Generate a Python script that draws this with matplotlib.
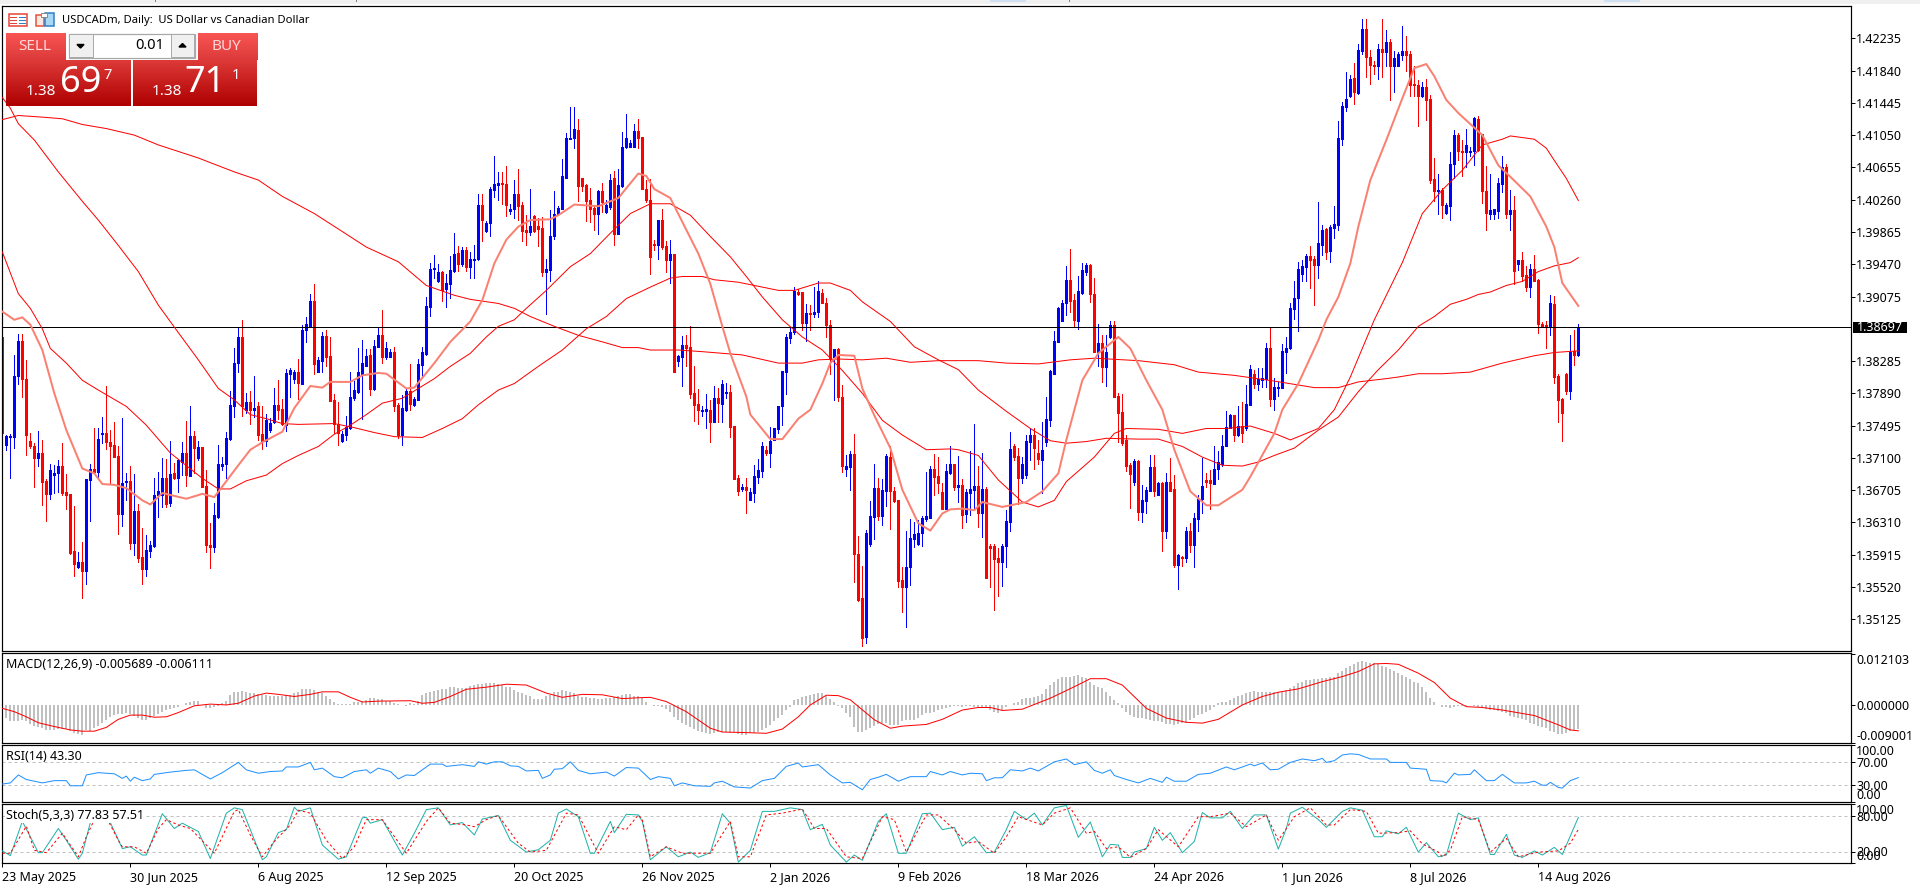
import numpy as np
import matplotlib
matplotlib.use("Agg")
import matplotlib.pyplot as plt
from matplotlib.patches import Rectangle
from matplotlib.colors import LinearSegmentedColormap

plt.rcParams['font.family'] = ['Noto Sans', 'DejaVu Sans']

# ---------- DATA (prices as points above 1.3000, 1 point = 0.0001) ----------
BASE = 1.30
POINT = 0.0001
current_price = 1.38697
price_ticks = [1.35125,1.35520,1.35915,1.36310,1.36705,1.37100,1.37495,1.37890,1.38285,
               1.39075,1.39470,1.39865,1.40260,1.40655,1.41050,1.41445,1.41840,1.42235]
date_labels = ["23 May 2025","30 Jun 2025","6 Aug 2025","12 Sep 2025","20 Oct 2025","26 Nov 2025",
               "2 Jan 2026","9 Feb 2026","18 Mar 2026","24 Apr 2026","1 Jun 2026","8 Jul 2026","14 Aug 2026"]

highs = [858,738,739,836,862,862,830,740,728,743,
 732,684,703,701,707,728,690,666,651,595,
 607,684,703,746,746,760,798,744,754,724,
 759,691,700,690,654,624,616,608,686,693,
 710,709,731,704,709,729,755,773,743,731,
 723,695,630,655,726,711,742,792,845,869,
 879,789,792,810,779,773,764,759,795,805,
 782,819,820,818,831,873,882,911,923,834,
 864,867,858,788,778,743,761,815,804,845,
 854,843,843,854,869,891,852,843,846,777,
 787,796,825,785,831,846,907,948,958,947,
 939,935,957,985,969,968,968,962,970,1033,
 1033,1000,1042,1079,1060,1060,1067,1021,1050,1064,
 1023,1007,1039,1007,1003,1005,954,1013,1036,1018,
 1076,1108,1140,1140,1125,1053,1045,1040,1019,1038,
 1046,1026,1057,1061,1064,1109,1131,1099,1118,1125,
 1103,1050,1051,977,1001,1014,976,977,959,836,
 859,860,871,822,794,773,788,781,798,795,
 805,802,799,749,689,678,685,673,701,709,
 729,724,748,747,774,816,862,870,919,917,
 913,898,897,919,927,917,906,879,843,844,
 799,713,719,739,614,578,622,657,702,685,
 684,715,724,674,658,577,620,635,631,634,
 639,693,700,715,711,679,703,724,703,712,
 684,672,718,752,700,716,674,605,605,600,
 605,646,742,727,722,711,738,747,747,732,
 754,784,818,865,895,903,945,966,911,932,
 948,948,947,930,874,860,860,877,877,789,
 788,738,704,709,707,677,674,713,714,681,
 680,691,710,689,593,590,626,630,642,665,
 710,692,695,724,719,738,768,764,763,773,
 778,799,824,818,820,820,851,870,808,803,
 849,858,899,926,950,952,960,969,957,1023,
 995,991,995,1018,1122,1145,1182,1179,1193,1217,
 1247,1247,1209,1196,1217,1247,1234,1223,1208,1207,
 1239,1226,1208,1189,1172,1170,1174,1154,1077,1057,
 1040,1022,1084,1111,1107,1099,1113,1090,1127,1128,
 1106,1067,1058,1015,1052,1079,1070,1038,1030,952,
 962,945,947,958,929,876,878,909,908,813,
 783,814,860,867,874]

lows = [740,720,686,722,800,784,713,722,674,700,
 652,633,660,667,668,664,648,593,565,575,
 539,556,633,693,687,728,721,678,711,617,
 627,658,599,591,582,556,566,589,601,638,
 650,650,651,684,668,689,676,688,691,707,
 675,595,575,595,636,695,685,732,760,815,
 761,765,752,760,732,721,725,742,753,758,
 750,743,785,802,782,801,852,871,813,815,
 815,822,780,740,726,729,732,745,781,790,
 757,822,787,793,846,826,831,833,767,734,
 726,767,769,773,781,809,836,884,930,925,
 902,895,906,938,939,945,939,930,930,952,
 975,987,982,1029,1026,1021,1006,1008,1003,1001,
 975,970,983,987,969,932,886,926,978,1007,
 1015,1052,1100,1089,1024,1037,1000,999,989,984,
 1011,1010,1015,970,984,1042,1089,1090,1090,1089,
 1039,1023,935,964,953,966,938,924,815,823,
 798,822,783,755,751,761,747,730,754,754,
 754,783,735,684,664,669,642,658,656,679,
 687,713,699,732,740,750,788,850,862,909,
 866,853,866,883,883,899,858,813,781,780,
 693,688,671,558,535,480,484,602,611,634,
 628,651,623,656,552,522,503,554,601,604,
 602,633,636,665,667,647,648,690,671,656,
 624,631,640,646,626,613,563,552,524,541,
 553,576,620,707,654,679,686,708,697,703,
 667,725,749,813,852,877,885,888,870,868,
 910,934,901,840,822,803,798,857,785,730,
 726,694,649,677,634,631,643,669,663,665,
 596,612,670,576,550,578,582,595,577,620,
 642,675,647,678,684,700,724,747,731,737,
 730,744,775,796,793,797,797,773,769,786,
 795,814,843,880,865,926,926,918,897,930,
 958,953,950,979,989,1093,1134,1152,1143,1155,
 1204,1176,1168,1180,1174,1176,1190,1148,1158,1189,
 1197,1183,1153,1153,1116,1152,1124,1047,1024,1009,
 1004,1009,1001,1052,1075,1055,1066,1079,1068,1085,
 1022,989,1002,1002,1003,1035,1004,989,923,940,
 926,914,907,926,863,870,844,860,802,754,
 731,788,782,824,835]

opens = [858,726,735,736,810,853,807,731,725,710,
 716,682,666,689,692,700,668,666,596,577,
 583,572,683,696,693,739,740,730,726,712,
 641,680,682,606,645,589,574,596,602,664,
 665,686,655,692,686,705,716,688,737,710,
 723,676,604,601,638,700,702,733,773,826,
 858,769,778,769,773,739,731,744,754,775,
 770,750,813,806,815,801,866,872,902,815,
 828,859,835,781,751,731,738,746,783,791,
 813,822,836,794,846,860,833,834,840,775,
 738,769,792,775,781,824,837,895,941,926,
 938,917,923,939,961,947,965,944,952,953,
 1019,988,997,1038,1044,1046,1045,1012,1014,1033,
 1019,989,986,1006,994,991,938,940,981,1008,
 1015,1053,1100,1101,1111,1053,1044,1026,1016,1008,
 1037,1011,1017,1052,984,1043,1091,1091,1090,1110,
 1103,1039,1025,972,970,1001,969,952,959,828,
 834,848,846,789,776,767,768,769,754,783,
 776,789,791,749,685,672,674,658,667,687,
 694,720,716,732,745,773,815,857,864,913,
 913,875,887,886,889,912,899,873,833,843,
 784,697,699,715,593,538,491,605,638,673,
 639,670,711,669,658,560,552,576,611,605,
 618,635,637,696,688,668,648,692,702,675,
 677,641,667,671,676,643,672,602,602,587,
 583,602,632,725,712,685,689,729,738,716,
 707,730,756,813,852,878,899,928,903,878,
 912,938,946,911,840,850,821,858,873,786,
 766,732,701,681,706,644,657,670,699,665,
 679,621,681,672,579,589,588,620,603,635,
 660,683,683,678,696,703,724,747,762,738,
 749,747,775,813,801,805,807,845,782,795,
 795,840,844,892,906,935,944,957,953,946,
 971,990,963,991,995,1100,1140,1153,1175,1157,
 1208,1235,1201,1191,1189,1210,1207,1219,1190,1190,
 1203,1208,1204,1167,1166,1153,1164,1149,1051,1037,
 1038,1010,1018,1070,1105,1086,1084,1084,1085,1125,
 1106,1037,1009,1009,1012,1045,1066,1009,1013,947,
 952,934,919,941,928,874,873,870,898,810,
 782,813,792,841,836]

closes = [740,737,737,810,853,806,738,725,710,716,
 681,666,695,692,700,667,665,594,580,583,
 572,684,696,693,733,740,729,725,711,641,
 679,682,606,645,588,574,597,603,665,670,
 686,654,690,685,707,716,689,737,722,723,
 675,603,601,640,702,702,734,775,826,858,
 773,778,769,771,738,731,756,753,775,769,
 751,814,817,815,802,867,874,902,825,830,
 859,833,780,751,741,739,748,784,793,815,
 826,835,794,847,860,833,845,840,774,738,
 771,792,776,782,825,839,896,941,942,937,
 916,924,940,960,947,965,944,953,954,1019,
 1001,998,1039,1045,1046,1045,1019,1015,1033,1018,
 988,986,994,988,990,938,941,981,1009,1016,
 1055,1101,1101,1112,1043,1043,1024,1015,1008,1037,
 1023,1019,1050,984,1044,1091,1101,1095,1110,1102,
 1039,1025,956,970,1001,968,952,959,815,835,
 848,845,788,775,769,769,770,754,783,777,
 801,791,748,684,669,674,671,668,688,695,
 725,716,731,746,773,816,858,864,914,910,
 875,887,886,889,914,899,873,832,843,784,
 700,700,715,592,536,490,618,639,673,639,
 671,712,669,657,559,552,576,612,617,618,
 636,639,696,687,679,648,694,702,675,677,
 640,668,672,676,643,672,563,600,586,583,
 602,633,721,711,685,702,731,738,722,709,
 720,758,816,853,894,900,928,902,879,914,
 940,946,911,840,850,821,840,873,785,765,
 728,700,690,706,644,658,671,699,669,679,
 621,680,670,579,591,588,620,604,636,660,
 676,681,679,697,705,725,748,762,738,749,
 740,776,819,801,806,808,845,782,797,797,
 841,845,894,906,941,945,957,952,946,973,
 989,962,993,996,1101,1141,1149,1174,1158,1209,
 1235,1200,1191,1189,1210,1207,1219,1190,1199,1204,
 1208,1203,1166,1166,1153,1164,1148,1050,1037,1038,
 1019,1019,1070,1105,1085,1084,1093,1086,1126,1087,
 1036,1010,1013,1014,1047,1066,1009,1013,939,952,
 933,919,941,926,874,872,871,899,809,781,
 765,792,840,836,870]

# moving averages: bar index / points above BASE
ma200_bar = [0,4,10,15,20,26,33,39,49,58,64,70,78,85,91,99,106,113,117,124,128,132,138,144,150,155,159,162,169,175,185,194,200,204,209,215,221,227,234,244,251,259,267,273,284,293,299,308,318,328,334,339,346,349,354,360,367,375,383,388,394]
ma200_val = [1124,1129,1127,1125,1118,1113,1105,1093,1077,1060,1050,1030,1009,987,968,950,921,909,904,899,893,883,871,860,852,845,845,842,842,840,836,826,826,830,831,830,832,827,829,829,826,825,830,832,829,824,815,811,804,796,796,803,807,809,813,813,815,826,835,839,841]
ma100_bar = [0,2,4,8,14,17,20,24,29,34,39,43,49,54,58,62,66,70,74,83,88,93,98,105,110,115,119,124,128,134,140,146,151,156,162,167,170,175,178,184,188,194,198,204,207,212,215,222,228,234,239,244,251,257,262,266,271,276,284,289,295,300,305,310,314,318,323,329,334,339,344,349,354,358,362,366,369,372,376,380,384,388,392,394]
ma100_val = [1151,1138,1119,1099,1060,1042,1024,1001,970,938,897,870,830,795,781,763,758,752,751,752,747,741,736,735,746,758,775,793,801,822,842,868,883,905,919,930,932,932,928,925,921,915,915,924,924,915,901,877,846,830,818,793,767,746,731,728,730,734,733,733,724,711,701,700,705,713,722,744,760,791,818,842,871,883,898,904,910,913,921,926,938,945,949,955]
ma50_bar = [0,4,7,10,12,16,20,24,31,36,42,50,54,57,61,66,70,74,79,83,87,91,95,100,104,108,112,117,121,124,128,131,136,142,147,152,157,162,167,172,177,182,186,190,195,200,205,210,215,220,225,231,237,239,244,249,255,259,263,266,273,278,281,289,295,301,306,312,318,322,326,329,333,337,343,347,350,355,360,365,370,375,377,383,386,388,391,394]
ma50_val = [962,911,893,868,844,826,805,793,773,750,716,685,672,672,682,689,703,713,724,739,750,763,777,783,795,807,822,838,858,871,879,893,915,944,960,985,1009,1021,1021,1007,981,956,932,907,879,858,842,817,789,756,738,720,721,720,713,683,656,650,658,681,711,740,746,745,740,746,746,749,740,732,740,746,769,809,879,919,949,1009,1038,1062,1093,1100,1104,1100,1089,1074,1052,1025]
ma20_bar = [0,3,5,7,10,13,16,20,23,25,28,31,35,37,40,46,50,53,55,59,62,65,70,73,77,80,82,87,90,94,96,101,103,108,112,117,120,123,126,129,132,137,139,143,149,154,159,161,163,167,171,174,177,180,182,186,187,192,195,199,202,205,207,209,213,215,218,222,225,229,232,235,237,240,243,245,250,256,260,264,266,270,274,279,282,286,290,293,297,301,304,310,312,318,320,324,329,331,334,337,339,342,346,350,353,356,358,361,364,370,374,377,382,386,388,390,394]
ma20_val = [889,879,882,873,842,789,744,697,691,678,677,673,658,653,667,660,666,662,675,701,720,729,742,771,798,796,803,803,811,814,813,795,796,826,852,877,903,948,977,993,1001,1002,1007,1020,1018,1028,1058,1055,1039,1028,989,960,923,871,838,785,763,733,733,758,769,801,826,836,835,795,762,722,671,630,621,642,647,648,646,656,650,656,669,691,732,805,838,858,844,805,769,720,669,652,652,671,687,740,769,801,854,879,907,948,993,1050,1099,1150,1187,1192,1177,1148,1132,1105,1068,1054,1030,993,968,924,896]

# MACD histogram, one value per bar, in thousandths
macd_hist_a = [-3.1,-3.1,-3.9,-3.9,-3.8,-3.5,-3.9,-4.5,-5.0,-5.3,
 -5.5,-5.9,-5.9,-5.9,-5.7,-5.7,-5.7,-6.1,-6.7,-6.8,
 -7.1,-5.9,-6.1,-5.5,-5.0,-4.3,-3.5,-2.9,-2.4,-2.1,
 -2.1,-2.0,-2.1,-2.6,-3.1,-3.5,-3.5,-3.1,-2.6,-2.1,
 -1.6,-1.3,-0.9,-0.8,-0.4,0,0.4,0.6,0.9,0.9,
 0,-0.8,-0.8,-0.4,-0.2,0.4,1.0,2.4,3.1,3.1,
 3.3,3.1,2.9,2.9,2.6,2.4,2.4,2.1,2.1,2.1,
 2.1,2.4,2.4,2.8,3.1,3.7,3.8,3.7,3.5,3.1,
 2.9,2.0,1.3,0.8,0.2,0.2,0.2,0.2,0.6,0.8,
 0.9,1.2,1.6,1.7,1.5,1.3,1.0,1.0,0.4,0.2,
 0,-0.2,0.4,0.2,1.0,2.4,2.9,3.1,3.3,3.5,
 3.7,3.7,4.2,4.2,4.1,4.1,4.1,4.5,4.7,4.9,
 5.0,5.3,5.3,5.1,5.0,4.7,4.3,4.2,3.5,3.1,
 2.9,2.4,2.0,1.3,1.3,1.3,2.0,2.4,3.0,3.1,
 3.5,3.4,3.1,2.8,2.0,1.8,1.8,1.7,1.6,1.3,
 1.3,1.6,1.6,1.8,2.1,2.4,2.5,2.5,2.1,2.0]
macd_hist_b = [1.6,0.8,0,-0.2,-0.2,-0.6,-0.9,-1.6,-2.8,-3.5,
 -4.2,-4.7,-5.3,-5.7,-6.1,-6.5,-6.7,-6.8,-6.7,-6.5,
 -6.5,-6.5,-6.7,-6.5,-6.9,-7.1,-7.1,-6.7,-6.7,-6.3,
 -5.9,-5.5,-4.7,-3.9,-3.1,-2.4,-1.2,-0.4,1.2,1.3,
 1.8,2.1,2.4,2.6,2.9,2.8,2.0,1.3,0.6,-0.2,
 -0.8,-1.8,-2.9,-5.1,-6.3,-6.3,-5.9,-5.5,-5.0,-4.5,
 -4.3,-4.3,-4.7,-4.7,-4.7,-3.9,-3.5,-3.5,-3.5,-3.1,
 -2.4,-2.0,-2.0,-1.6,-1.2,-1.0,-0.8,-0.4,-0.2,-0.2,
 -0.4,-0.2,-0.2,-0.4,-0.4,-0.4,-0.8,-1.2,-1.6,-1.8,
 -1.2,-0.6,0,0.4,0.6,1.3,1.6,1.6,1.8,2.0,
 2.5,3.7,4.7,5.5,6.1,6.5,6.5,6.7,6.8,7.0,
 6.7,6.3,5.5,4.7,4.3,3.9,3.1,2.0,1.2,0.4,
 -0.8,-1.6,-2.4,-2.9,-3.0,-3.1,-3.4,-3.5,-3.7,-3.9,
 -4.1,-4.5,-4.6,-4.7,-4.6,-4.3,-4.2,-3.5,-3.1,-2.4,
 -2.1,-1.6,-1.2,-0.4,0.4,0.6,0.8,1.2,1.6,2.1,
 2.4,2.8,3.1,3.3,3.1,3.0,3.1,3.1,3.1,3.1]
macd_hist_c = [3.1,3.5,4.1,4.5,5.1,5.5,5.9,5.9,6.1,6.1,
 6.3,6.3,6.5,6.7,7.5,8.1,8.7,9.2,9.7,10.2,
 10.4,10.2,10.0,9.8,9.6,9.2,8.9,8.4,8.1,7.6,
 7.1,6.5,6.1,5.5,5.1,4.3,3.1,1.7,0.8,-0.1,
 -0.4,-0.6,-0.7,-0.6,-0.2,-0.2,-0.2,0,-0.2,-0.4,
 -0.8,-1.0,-1.3,-1.3,-1.4,-1.6,-2.0,-2.6,-2.9,-3.1,
 -3.4,-3.5,-4.3,-4.6,-5.0,-5.1,-5.5,-6.1,-6.5,-6.8,
 -6.8,-6.7,-6.2,-5.9,-5.689]
macd_sig_bar = [0,3,6,9,13,17,20,23,26,29,32,35,38,41,44,48,52,56,59,63,66,69,73,77,80,84,87,90,94,102,105,108,112,116,121,126,131,136,140,145,150,155,159,162,166,171,177,180,185,191,195,199,202,206,209,212,218,222,225,231,235,240,244,247,250,255,262,268,272,276,280,286,291,296,300,304,310,315,319,324,330,335,339,343,346,349,354,358,362,366,370,375,383,389,392,394]
macd_sig_val = [-.8,-1.6,-2.8,-4.2,-5.1,-5.9,-6.2,-6.2,-5.3,-3.4,-2.4,-2.4,-2.9,-2.8,-1.8,-.2,.2,0,.4,2.1,2.8,2.5,2,2.5,3.1,3.1,1.8,.7,.9,1,.4,.6,2,3.7,4.2,4.9,4.7,2.8,1.8,2.5,2.4,1.5,1.7,1.8,.8,-1.6,-5.5,-6.4,-6.5,-6.7,-5.7,-2.8,0,2.3,2.2,1.2,-3.5,-5.5,-5,-4.6,-3.4,-1.2,-.6,-.6,-1.3,-1,1.6,4.3,6.2,6.2,4.7,-.8,-3.1,-4.1,-4.3,-3.4,0,2,3,3.8,5.5,6.7,7.9,9.7,9.8,9.6,7.5,5.3,1.6,-.4,-.6,-1.2,-2.5,-4.7,-5.9,-6.111]

rsi_bar = [0,2,4,6,8,10,13,16,17,20,21,24,28,30,31,32,33,35,37,38,40,42,46,48,52,55,59,61,64,67,70,71,74,77,78,80,83,85,88,91,92,94,97,99,101,103,107,110,111,115,118,119,121,123,125,127,129,131,134,135,137,138,140,142,144,147,151,153,156,159,
 162,164,167,168,170,173,177,178,180,183,187,190,193,196,199,200,204,207,210,212,215,217,219,221,224,227,231,232,235,237,240,242,245,246,248,250,252,255,257,259,263,266,268,271,273,275,277,278,281,284,287,290,291,293,296,299,302,306,308,312,313,315,317,319,
 322,325,328,330,331,333,335,337,339,342,346,347,351,352,356,357,360,361,363,364,367,368,371,373,375,378,381,383,385,386,387,389,390,392,394]
rsi_val = [32,34,48,40,37,34,38,38,29,29,48,52,50,42,46,37,44,38,41,49,51,53,56,57,41,52,70,57,51,54,55,62,62,70,57,60,45,43,54,57,51,60,54,41,48,47,67,67,63,66,63,71,67,71,71,64,63,55,56,42,48,58,59,71,56,50,53,46,61,60,
 40,45,42,29,34,29,28,34,37,27,25,38,42,63,69,62,66,48,34,35,22,40,44,49,37,45,45,54,48,54,48,51,50,38,43,43,57,55,60,55,71,76,66,71,56,51,57,47,40,34,42,35,44,37,37,49,51,62,57,67,64,69,57,58,
 70,76,73,77,70,73,83,85,84,76,76,70,70,60,58,38,37,34,51,48,49,57,38,38,49,34,34,37,30,30,35,26,25,38,43.3]

stoch_main_bar = [0,2,5,7,9,10,14,16,19,20,22,25,27,30,32,35,36,40,43,45,49,52,56,58,60,65,66,69,71,73,74,77,80,84,86,90,91,92,95,100,103,106,109,112,115,118,120,124,127,131,134,137,139,141,144,147,148,152,153,156,159,
 160,162,166,169,172,174,177,180,182,184,187,190,193,197,200,202,205,207,211,213,215,219,221,224,226,230,232,235,238,240,243,246,248,251,253,256,258,260,263,266,269,272,275,277,279,280,282,283,286,288,290,292,295,298,300,302,305,307,310,313,316,319,
 321,322,325,329,331,335,337,340,343,345,346,349,351,354,356,359,361,364,367,369,372,373,376,378,380,383,385,388,390,394]
stoch_main_val = [21,13,71,45,18,18,59,39,7,17,69,85,69,25,28,14,14,84,59,68,54,8,85,94,91,6,11,52,57,95,88,94,31,7,11,77,78,68,74,14,51,91,94,65,69,48,75,81,39,19,23,39,85,92,79,17,17,71,52,83,82,
 71,6,28,11,19,10,18,84,68,2,22,88,88,94,91,57,66,31,2,14,5,71,84,17,17,84,85,57,61,29,45,18,19,57,88,74,85,65,94,98,44,70,11,32,31,10,10,19,25,61,39,52,18,37,86,77,77,88,59,82,82,24,
 59,85,95,74,61,88,94,90,45,45,55,50,61,19,35,11,14,85,74,77,15,15,49,14,10,21,14,27,15,77.83]
stoch_sig_bar = [0,2,6,8,11,15,19,21,23,26,29,30,33,36,39,41,44,47,53,58,59,62,65,68,72,74,77,81,85,88,91,95,101,106,109,112,116,118,121,124,129,132,136,141,144,149,153,156,159,
 160,162,166,170,173,177,182,184,187,191,195,200,203,206,211,215,220,223,226,231,234,238,241,244,248,251,254,260,263,267,271,273,276,279,282,286,289,294,299,302,307,311,316,319,
 323,327,331,333,337,341,344,349,352,355,359,360,362,365,369,372,376,379,384,389,392,394]
stoch_sig_val = [17,17,63,22,18,51,11,45,74,78,39,28,28,17,59,74,65,59,17,88,91,48,11,37,65,90,85,39,8,28,74,74,17,71,94,68,65,62,74,81,34,19,22,85,82,17,62,57,82,
 74,11,28,17,17,17,71,11,11,82,85,92,59,59,11,8,79,74,19,82,82,57,34,37,17,45,79,65,85,94,51,54,25,28,10,25,57,28,79,79,85,62,82,39,
 79,94,65,65,91,88,51,52,55,33,19,11,22,79,74,19,42,11,19,21,34,57.51]

# ---------- LAYOUT helpers ----------
W, H = 1920, 885
fig = plt.figure(figsize=(W/100, H/100), dpi=100, facecolor='white')
def ax_px(l, t, r, b):
    return fig.add_axes([l/W, 1-b/H, (r-l)/W, (b-t)/H], facecolor='white')

L, R = 2.33, 1850.6
XLIM = (0, (R-L)/4)
ax_main  = ax_px(L, 6, R, 651)
ax_macd  = ax_px(L, 653.3, R, 743.3)
ax_rsi   = ax_px(L, 745.3, R, 802.3)
ax_stoch = ax_px(L, 804.3, R, 863.3)
PX = 0.72
FS = 9
for a in (ax_main, ax_macd, ax_rsi, ax_stoch):
    a.set_xlim(*XLIM)
    a.yaxis.tick_right()
    for s in a.spines.values():
        s.set_linewidth(PX*1.2); s.set_color('black')
    a.tick_params(axis='y', length=2.9, width=PX, pad=1.2, labelsize=FS)
    a.tick_params(axis='x', length=0)
    a.set_xticks([])

# ---------- main pane ----------
def price(v):
    return BASE + np.asarray(v, float)*POINT
bars = np.arange(len(closes))
o, h, l, c = map(price, (opens, highs, lows, closes))
up = c >= o
col = np.where(up, '#0000FF', '#FF0000')
ax_main.vlines(bars, l, h, colors=col, linewidth=PX, antialiased=False, zorder=2)
ax_main.vlines(bars, np.minimum(o, c), np.maximum(o, c), colors=col, linewidth=PX*3, antialiased=False, zorder=2)
ax_main.axhline(current_price, color='black', lw=PX, zorder=3)
for bx, vals in ((ma200_bar, ma200_val), (ma100_bar, ma100_val), (ma50_bar, ma50_val)):
    ax_main.plot(bx, price(vals), color='#FF0000', lw=PX, zorder=4)
ax_main.plot(ma20_bar, price(ma20_val), color='#FA8072', lw=PX*2, zorder=5)
ax_main.set_ylim(1.34737, 1.42630)
ax_main.set_yticks(price_ticks)
ax_main.set_yticklabels([f"{p:.5f}" for p in price_ticks])

# ---------- MACD ----------
macd_hist = macd_hist_a + macd_hist_b + macd_hist_c
ax_macd.vlines(np.arange(len(macd_hist)), 0, np.array(macd_hist)*1e-3, colors='#C0C0C0', linewidth=PX*2, antialiased=False, zorder=2)
ax_macd.plot(macd_sig_bar, np.array(macd_sig_val)*1e-3, color='#FF0000', lw=PX, zorder=3)
ax_macd.set_ylim(-0.00906, 0.0122)
ax_macd.set_yticks([-0.009001, 0, 0.012103])
ax_macd.set_yticklabels(["-0.009001", "0.000000", "0.012103"])
tl = ax_macd.get_yticklabels()
tl[0].set_va('bottom'); tl[2].set_va('top')

# ---------- RSI ----------
for lv in (70, 30):
    ax_rsi.axhline(lv, color='#C0C0C0', lw=PX, ls=(0, (3, 3)), zorder=1)
ax_rsi.plot(rsi_bar, rsi_val, color='#1E90FF', lw=PX, zorder=3)
ax_rsi.set_ylim(0, 100)
ax_rsi.set_yticks([0, 30, 70, 100])
ax_rsi.set_yticklabels(["0.00", "30.00", "70.00", "100.00"])
tl = ax_rsi.get_yticklabels()
tl[0].set_va('bottom'); tl[3].set_va('top')

# ---------- Stochastic ----------
for lv in (80, 20):
    ax_stoch.axhline(lv, color='#C0C0C0', lw=PX, ls=(0, (3, 3)), zorder=1)
ax_stoch.plot(stoch_main_bar, stoch_main_val, color='#20B2AA', lw=PX, zorder=3)
ax_stoch.plot(stoch_sig_bar, stoch_sig_val, color='#FF0000', lw=PX, ls=(0, (2.5, 2.5)), zorder=4)
ax_stoch.set_ylim(0, 100)
ax_stoch.set_yticks([0, 20, 80, 100])
ax_stoch.set_yticklabels(["0.00", "20.00", "80.00", "100.00"])
tl = ax_stoch.get_yticklabels()
tl[0].set_va('bottom'); tl[3].set_va('top')
ax_stoch.set_xticks(np.arange(len(date_labels))*32)
ax_stoch.set_xticklabels(date_labels, ha='left', fontsize=FS)
ax_stoch.tick_params(axis='x', length=2.9, width=PX, pad=3)

# ---------- overlay: chart furniture, in pixels ----------
ov = fig.add_axes([0, 0, 1, 1], facecolor='none', zorder=10)
ov.set_axis_off()
def grad(x0, y0, x1, y1, top, bot):
    cm = LinearSegmentedColormap.from_list('g', [top, bot])
    ov.imshow(np.linspace(0, 1, 64)[:, None], cmap=cm, extent=(x0, x1, y1, y0), aspect='auto', zorder=2, interpolation='bilinear')
def rect(x0, y0, x1, y1, fc, ec='none', lw=0, z=3):
    ov.add_patch(Rectangle((x0, y0), x1-x0, y1-y0, facecolor=fc, edgecolor=ec, linewidth=lw, zorder=z))

# top strip
rect(0, 0, W, 4, '#F0F0F0')
for tx in (155, 356, 1069):
    rect(tx, 0, tx+1, 2, '#808080')
rect(990, 0, 1026, 2, '#CFE0F0'); rect(1604, 0, 1640, 2, '#CFE0F0')

# title and icons
ov.text(61.5, 20.5, "USDCADm, Daily:  US Dollar vs Canadian Dollar", fontsize=8.1, va='center', ha='left', color='black', zorder=6)
rect(8.5, 14, 27, 25.5, 'white', ec='#E5433A', lw=1.1)
for yy in (17, 19.8, 22.5):
    rect(10, yy, 17, yy+1.3, '#E5433A'); rect(18.5, yy, 26, yy+1.3, '#2F80C8')
rect(17.5, 14, 18.2, 25.5, '#2F80C8')
rect(36, 14.5, 44, 25.5, '#F8E8E0', ec='#E5533A', lw=1.1)
rect(45, 13, 53.5, 25.5, '#A9D8F5', ec='#2F80C8', lw=1.1)
rect(41, 13, 47, 16.5, 'white', ec='#888888', lw=0.7)

# trade panel
grad(6, 33.3, 65.7, 60, '#FA5555', '#DC3A3A')
grad(197.5, 33.3, 256.7, 60, '#FA5555', '#DC3A3A')
grad(6, 60, 131, 106, '#DD3A38', '#AE0000')
grad(133, 60, 257, 106, '#DD3A38', '#AE0000')
rect(10, 59.6, 62, 60.3, '#AA2020'); rect(201, 59.6, 253, 60.3, '#AA2020')
rect(68.5, 33.5, 194.5, 57.5, 'white', ec='#A8A8A8', lw=0.9)
rect(69, 34, 92.5, 57, '#F0F0F0', ec='#A8A8A8', lw=0.7)
rect(170.5, 34, 194, 57, '#F0F0F0', ec='#A8A8A8', lw=0.7)
ov.fill([77, 84, 80.5], [44.5, 44.5, 48], color='black', zorder=5)
ov.fill([179, 186, 182.5], [47, 47, 43.5], color='black', zorder=5)
ov.text(35, 46.5, "SELL", color='#FFD8D8', fontsize=11, ha='center', va='center', zorder=6)
ov.text(226.5, 46.5, "BUY", color='#FFD8D8', fontsize=11, ha='center', va='center', zorder=6)
ov.text(164, 45.5, "0.01", color='black', fontsize=10.5, ha='right', va='center', zorder=6)
ov.text(26, 91.5, "1.38", color='white', fontsize=11, fontweight='bold', ha='left', va='center', zorder=6)
ov.text(152, 91.5, "1.38", color='white', fontsize=11, fontweight='bold', ha='left', va='center', zorder=6)
ov.text(80.5, 83, "69", color='white', fontsize=26, ha='center', va='center', zorder=6)
ov.text(205, 83, "71", color='white', fontsize=26, ha='center', va='center', zorder=6)
ov.text(108, 75.5, "7", color='white', fontsize=10.5, fontweight='bold', ha='center', va='center', zorder=6)
ov.text(235.5, 75.5, "1", color='white', fontsize=10.5, fontweight='bold', ha='center', va='center', zorder=6)

# last-price box
rect(1853, 321.7, 1906.7, 333.3, 'black')
ov.text(1856.5, 327.5, f"{current_price:.5f}", color='white', fontsize=FS, ha='left', va='center', zorder=6)

# indicator labels (the stochastic one masks what runs beneath it)
wb = dict(facecolor='white', edgecolor='none', pad=0.8)
ov.text(5.7, 665, "MACD(12,26,9) -0.005689 -0.006111", fontsize=FS, va='center', ha='left', zorder=6)
ov.text(5.7, 756.7, "RSI(14) 43.30", fontsize=FS, va='center', ha='left', zorder=6)
ov.text(5.7, 815.5, "Stoch(5,3,3) 77.83 57.51", fontsize=FS, va='center', ha='left', zorder=6, bbox=wb)

ov.set_xlim(0, W); ov.set_ylim(H, 0)
fig.savefig('out.png', dpi=100, facecolor='white')
